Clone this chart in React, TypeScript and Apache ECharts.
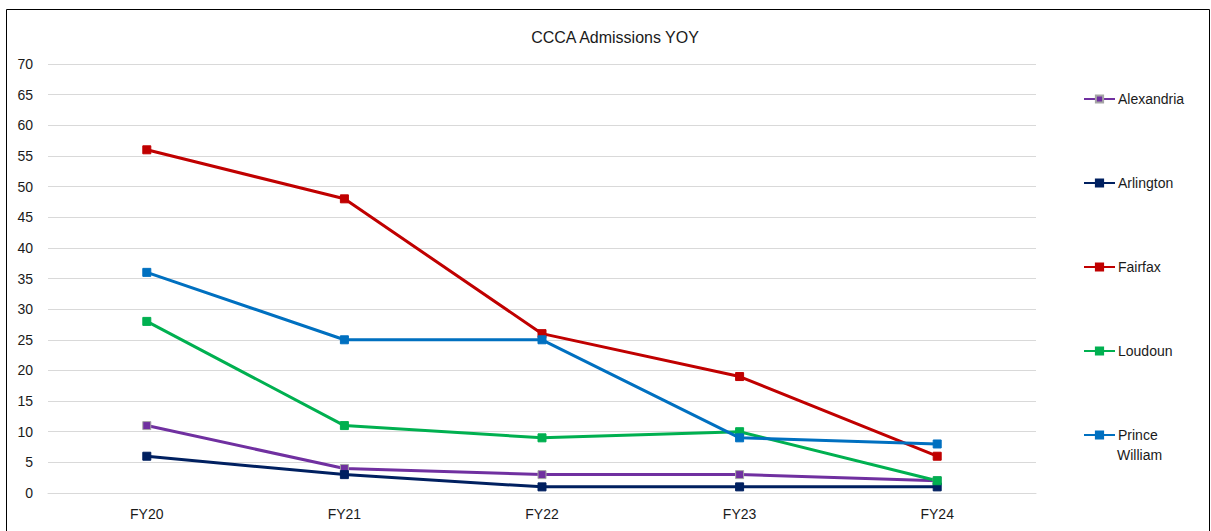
import React, { useEffect, useRef } from "react";
import * as echarts from "echarts";

const categories = ["FY20", "FY21", "FY22", "FY23", "FY24"];
const alexandria = [11, 4, 3, 3, 2];
const arlington = [6, 3, 1, 1, 1];
const fairfax = [56, 48, 26, 19, 6];
const loudoun = [28, 11, 9, 10, 2];
const princeWilliam = [36, 25, 25, 9, 8];

const seriesDefs = [
  { name: "Alexandria", data: alexandria, color: "#7030A0", border: "#A5A5A5" },
  { name: "Arlington", data: arlington, color: "#002060", border: "#002060" },
  { name: "Fairfax", data: fairfax, color: "#C00000", border: "#C00000" },
  { name: "Loudoun", data: loudoun, color: "#00B050", border: "#00B050" },
  { name: "Prince William", data: princeWilliam, color: "#0070C0", border: "#0070C0" },
];

export default function App() {
  const ref = useRef<HTMLDivElement>(null);
  useEffect(() => {
    if (!ref.current) return;
    const chart = echarts.init(ref.current, undefined, { renderer: "svg" });
    const font = "Liberation Sans, Arial, sans-serif";
    chart.setOption({
      animation: false,
      backgroundColor: "#ffffff",
      textStyle: { fontFamily: font },
      title: {
        text: "CCCA Admissions YOY",
        left: 610,
        textAlign: "center",
        top: 24,
        textStyle: { fontSize: 16, fontWeight: "normal", color: "#1a1a1a", fontFamily: font },
      },
      graphic: [
        {
          type: "rect",
          shape: { x: 6.5, y: 9.5, width: 1203, height: 530 },
          style: { fill: "none", stroke: "#000000", lineWidth: 1 },
          silent: true,
        },
        {
          type: "text",
          left: 1117,
          top: 448,
          style: { text: "William", fontSize: 14, fill: "#1a1a1a", fontFamily: font },
          silent: true,
        },
      ],
      legend: {
        orient: "vertical",
        left: 1083,
        top: 92,
        padding: 0,
        itemWidth: 31,
        itemHeight: 9,
        itemGap: 70,
        textStyle: { fontSize: 14, color: "#1a1a1a", fontFamily: font, padding: [0, 0, 0, -2] },
        data: seriesDefs.map((s) => s.name),
        formatter: (name: string) => (name === "Prince William" ? "Prince" : name),
      },
      grid: { left: 48, right: 175, top: 64, bottom: 38, containLabel: false },
      xAxis: {
        type: "category",
        data: categories,
        boundaryGap: true,
        axisLine: { lineStyle: { color: "#D9D9D9" } },
        axisTick: { show: false },
        axisLabel: { color: "#1a1a1a", fontSize: 14, margin: 14, fontFamily: font },
      },
      yAxis: {
        type: "value",
        min: 0,
        max: 70,
        interval: 5,
        axisLine: { show: false },
        axisTick: { show: false },
        axisLabel: { color: "#1a1a1a", fontSize: 14, margin: 15, fontFamily: font },
        splitLine: { lineStyle: { color: "#D9D9D9" } },
      },
      series: seriesDefs.map((s) => ({
        name: s.name,
        type: "line",
        data: s.data,
        symbol: "rect",
        symbolSize: 8,
        showAllSymbol: true,
        lineStyle: { color: s.color, width: 3 },
        itemStyle: { color: s.color, borderColor: s.border, borderWidth: 1 },
        emphasis: { disabled: true },
      })),
    });
    return () => chart.dispose();
  }, []);
  return (
    <div
      ref={ref}
      style={{ position: "absolute", left: 0, top: 0, width: 1211, height: 531 }}
    />
  );
}
